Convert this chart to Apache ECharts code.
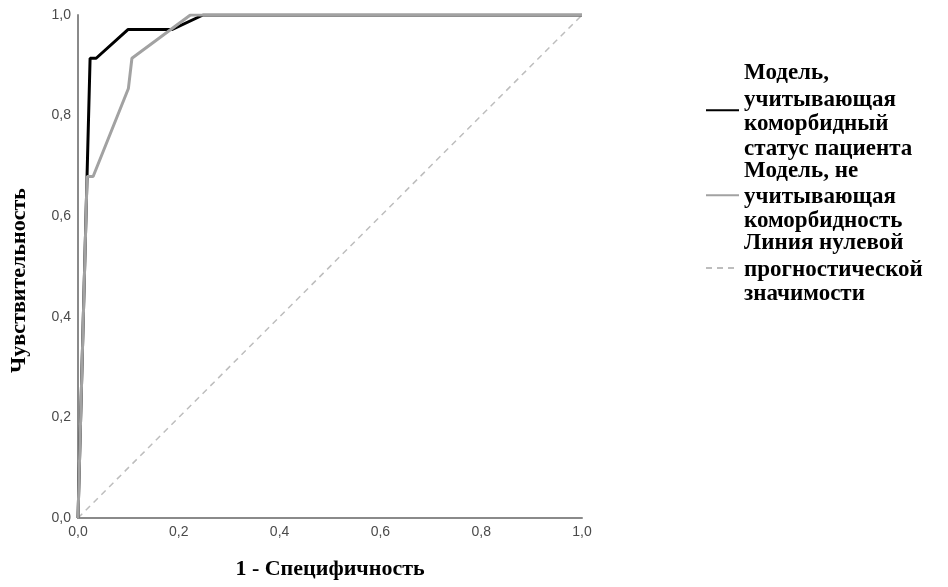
<!DOCTYPE html>
<html>
<head>
<meta charset="utf-8">
<script src="https://cdn.jsdelivr.net/npm/echarts@6/dist/echarts.min.js"></script>
<style>
  html, body { margin: 0; padding: 0; background: #ffffff; }
  #chart { width: 948px; height: 587px; }
</style>
</head>
<body>
<div id="chart"></div>
<script>
// ROC curves: [1 - specificity, sensitivity]
const withComorbidity = [
  [0, 0], [0.018, 0.682], [0.024, 0.914], [0.036, 0.914],
  [0.099, 0.971], [0.186, 0.971], [0.248, 1], [1, 1]
];
const withoutComorbidity = [
  [0, 0], [0.018, 0.679], [0.030, 0.679], [0.100, 0.854],
  [0.107, 0.914], [0.223, 1], [1, 1]
];
const referenceLine = [[0, 0], [1, 1]];

const seriesNames = [
  'Модель, учитывающая коморбидный статус пациента',
  'Модель, не учитывающая коморбидность',
  'Линия нулевой прогностической значимости'
];
// legend text broken into lines
const legendLines = [
  ['Модель,', 'учитывающая', 'коморбидный', 'статус пациента'],
  ['Модель, не', 'учитывающая', 'коморбидность'],
  ['Линия нулевой', 'прогностической', 'значимости']
];
const tickValues = [0, 0.2, 0.4, 0.6, 0.8, 1.0];

const xTitle = '1 - Специфичность';
const yTitle = 'Чувствительность';

const chart = echarts.init(document.getElementById('chart'));

const serif = '"Liberation Serif", "Times New Roman", serif';
const sans = '"Liberation Sans", Arial, sans-serif';
const fmtTick = v => v.toFixed(1).replace('.', ',');

const legendFont = { fontFamily: serif, fontWeight: 'bold', fontSize: 23, color: '#000' };

function axisCommon() {
  return {
    type: 'value',
    min: 0,
    max: 1,
    interval: 0.2,
    splitLine: { show: false },
    axisTick: { show: false },
    axisLine: { show: true, lineStyle: { color: '#8a8a8a', width: 2 } },
    axisLabel: {
      formatter: fmtTick,
      fontFamily: sans,
      fontSize: 14,
      color: '#4a4a4a',
      margin: 7
    },
    nameLocation: 'middle',
    nameTextStyle: { fontFamily: serif, fontWeight: 'bold', fontSize: 22, color: '#000' }
  };
}

const xAxis = Object.assign(axisCommon(), { name: xTitle, nameGap: 40 });
const yAxis = Object.assign(axisCommon(), { name: yTitle, nameGap: 48 });
yAxis.nameTextStyle = Object.assign({}, yAxis.nameTextStyle, { padding: [0, 28, 0, 0] });

chart.setOption({
  backgroundColor: '#ffffff',
  animation: false,
  grid: { left: 78, right: 366, top: 15, bottom: 69 },
  xAxis: xAxis,
  yAxis: yAxis,
  legend: {
    orient: 'vertical',
    left: 705,
    top: 62,
    padding: 0,
    itemWidth: 33,
    itemHeight: 2,
    itemGap: -1,
    itemStyle: { opacity: 0 },
    data: seriesNames,
    formatter: function (name) {
      const lines = legendLines[seriesNames.indexOf(name)];
      return lines.map((l, i) => (i === 0 ? '{f|' + l + '}' : '{r|' + l + '}')).join('\n');
    },
    textStyle: {
      fontFamily: serif,
      fontWeight: 'bold',
      fontSize: 23,
      color: '#000',
      rich: {
        f: Object.assign({ lineHeight: 28 }, legendFont),
        r: Object.assign({ lineHeight: 24.5 }, legendFont)
      }
    }
  },
  series: [
    {
      name: seriesNames[0],
      type: 'line',
      data: withComorbidity,
      symbol: 'none',
      lineStyle: { color: '#000000', width: 3 },
      itemStyle: { color: '#000000' }
    },
    {
      name: seriesNames[1],
      type: 'line',
      data: withoutComorbidity,
      symbol: 'none',
      lineStyle: { color: '#a2a2a2', width: 3 },
      itemStyle: { color: '#a2a2a2' }
    },
    {
      name: seriesNames[2],
      type: 'line',
      data: referenceLine,
      symbol: 'none',
      z: 1,
      lineStyle: { color: '#bdbdbd', width: 1.5, type: [6, 5] },
      itemStyle: { color: '#bdbdbd' }
    }
  ]
});
</script>
</body>
</html>
